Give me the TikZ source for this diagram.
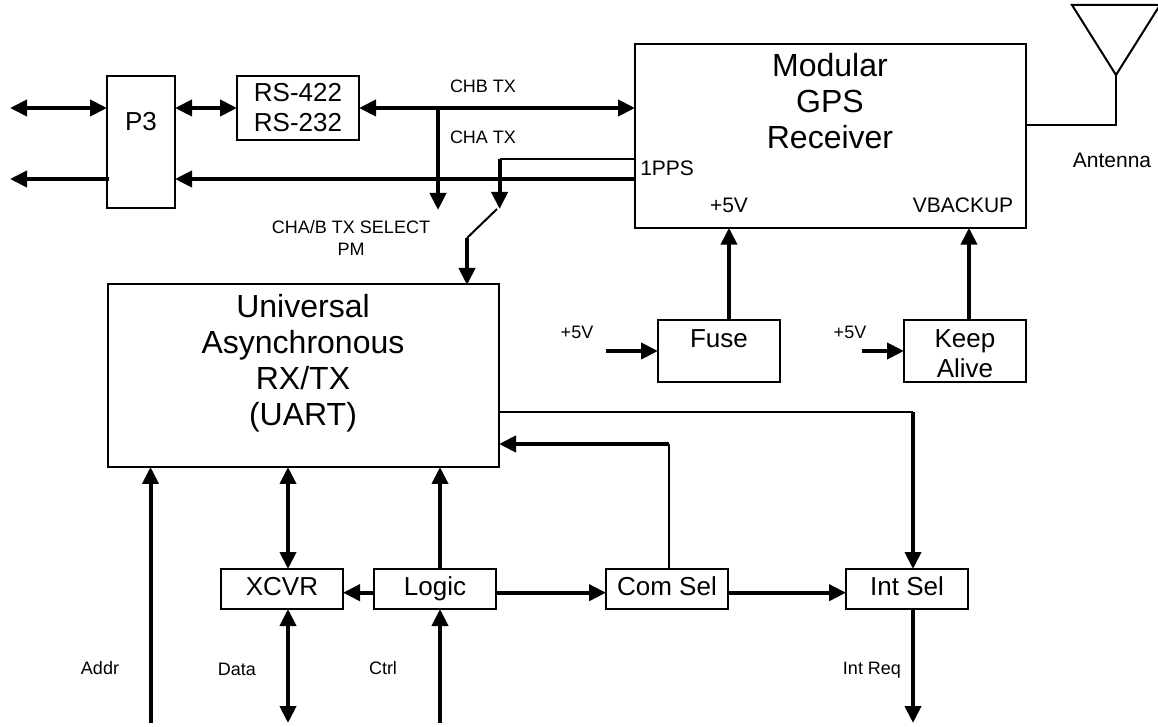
\documentclass[tikz,border=0pt]{standalone}
\usepackage{fontspec}
\setmainfont{Liberation Sans}
\usetikzlibrary{arrows.meta,positioning}
\tikzset{
  bigf/.style={font=\fontsize{24}{27}\selectfont,align=center,inner sep=0pt},
  midf/.style={font=\fontsize{19.5}{22.5}\selectfont,align=center,inner sep=0pt},
  smlf/.style={font=\fontsize{15.75}{18}\selectfont,inner sep=0pt},
  tinyf/.style={font=\fontsize{13.5}{16}\selectfont,align=center,inner sep=0pt},
  box/.style={draw,line width=1.5pt,outer sep=0pt,inner sep=0pt},
  wide/.style={box,midf,minimum width=91.5pt},
  sel/.style={wide,minimum height=30pt,text height=14pt,text depth=5pt},
  wire/.style={line width=1.5pt},
  thk/.style={line width=3pt,-{Triangle[length=12.75pt,width=12pt]}},
  dbl/.style={line width=3pt,{Triangle[length=12.75pt,width=12pt]}-{Triangle[length=12.75pt,width=12pt]}}
}
\begin{document}
\begin{tikzpicture}[x=0.75pt,y=-0.75pt]
  \useasboundingbox (0,0) rectangle (1158,727);
  % top row
  \node[box,minimum width=51pt,minimum height=99pt] (p3) at (141,142) {};
  \node[midf] (p3txt) at (141,122) {P3};
  \node[wide,minimum height=48pt] (rs) at (298,108) {RS-422\\RS-232};
  \node[box,minimum width=293.25pt,minimum height=137.6pt] (gps) at (830.5,136) {};
  \node[bigf] (gpstxt) at (830,101) {Modular\\GPS\\Receiver};
  \node[smlf,anchor=west] (pps) at (640,168) {1PPS};
  \node[smlf] (gps5v) at (729,205) {+5V};
  \node[smlf] (vbak) at (963,205) {VBACKUP};
  \node[box,minimum width=293.25pt,minimum height=137.25pt] (uart) at (303,375.5) {};
  \node[bigf] (uarttxt) at (303,363) {Universal\\Asynchronous\\RX/TX\\(UART)};
  % supplies
  \node[wide,minimum height=46.5pt,text height=40pt] (fuse) at (719,351) {Fuse\\~};
  \node[wide,minimum height=46.5pt,text height=40pt] (keep) at (965,351) {Keep\\Alive};
  \node[tinyf] (fuse5v) at (577,332) {+5V};
  \node[tinyf] (keep5v) at (850,332) {+5V};
  % bottom row
  \foreach \name/\txt/\x in {xcvr/XCVR/282,logic/Logic/435,comsel/Com Sel/667,intsel/Int Sel/907}
    {\node[sel] (\name) at (\x,589) {\txt};}
  % labels
  \node[tinyf] (chb) at (483,86) {CHB TX};
  \node[tinyf] (cha) at (483,137) {CHA TX};
  \node[tinyf] (txsel) at (351,238) {CHA/B TX SELECT\\PM};
  \node[smlf] (ant) at (1112,160) {Antenna};
  \node[tinyf] (addr) at (100,668) {Addr};
  \node[tinyf] (data) at (237,669) {Data};
  \node[tinyf] (ctrl) at (383,668) {Ctrl};
  \node[tinyf] (intreq) at (872,670) {Int Req};
  % free ends
  \coordinate (lefta) at (10,108);
  \coordinate (leftb) at (10,179);
  \coordinate (p3b) at (109,179);
  \coordinate (busr) at (636,179);
  \coordinate (busl) at (175,179);
  \coordinate (chbj) at (438,108);
  \coordinate (chbt) at (438,210);
  \coordinate (chas) at (635,159);
  \coordinate (chac) at (499.6,159);
  \coordinate (chat) at (499.6,209);
  \coordinate (swa) at (497,209);
  \coordinate (swb) at (467,238);
  \coordinate (swt) at (467,285);
  \coordinate (aptop) at (1116,75);
  \coordinate (apl) at (1072,5);
  \coordinate (apr) at (1160,5);
  \coordinate (apc) at (1116,125);
  \coordinate (aps) at (1026,125);
  \coordinate (inf) at (606,351);
  \coordinate (ink) at (862,351);
  \coordinate (addrb) at (150.5,723);
  \coordinate (addrt) at (150.5,467);
  \coordinate (datab) at (288,723);
  \coordinate (datam) at (288,609);
  \coordinate (datat) at (288,467);
  \coordinate (dataz) at (288,569);
  \coordinate (ctrlb) at (440,723);
  \coordinate (ctrlm) at (440,609);
  \coordinate (ctrlu) at (440,569);
  \coordinate (ctrlt) at (440,467);
  \coordinate (comc) at (669,569);
  \coordinate (comk) at (669,444);
  \coordinate (comt) at (499,444);
  \coordinate (ints) at (499,412);
  \coordinate (intc) at (913,412);
  \coordinate (intt) at (913,569);
  \coordinate (intm) at (913,609);
  \coordinate (intb) at (913,723);
  % connectors
  \draw[dbl] (lefta) -- (lefta -| p3.west);
  \draw[dbl] (p3.east |- rs) -- (rs.west);
  \draw[dbl] (rs.east) -- (rs -| gps.west);
  \draw[thk] (chbj) -- (chbt);
  \draw[thk] (p3b) -- (leftb);
  \draw[thk] (busr) -- (busl);
  \draw[wire] (chas) -- (chac);
  \draw[thk] (chac) -- (chat);
  \draw[wire] (swa) -- (swb);
  \draw[thk] (swb) -- (swt);
  \draw[wire] (apl) -- (aptop) -- (apr) -- cycle;
  \draw[wire] (aptop) -- (apc) -- (aps);
  \draw[thk] (fuse.north -| gps5v) -- (gps.south -| gps5v);
  \draw[thk] (keep.north -| 969,0) -- (gps.south -| 969,0);
  \draw[thk] (inf) -- (fuse.west);
  \draw[thk] (ink) -- (keep.west);
  \draw[thk] (addrb) -- (addrt);
  \draw[dbl] (dataz) -- (datat);
  \draw[dbl] (datam) -- (datab);
  \draw[thk] (ctrlu) -- (ctrlt);
  \draw[thk] (ctrlb) -- (ctrlm);
  \draw[thk] (logic.west |- 0,592.7) -- (xcvr.east |- 0,592.7);
  \draw[thk] (logic.east |- 0,592.7) -- (comsel.west |- 0,592.7);
  \draw[thk] (comsel.east |- 0,592.7) -- (intsel.west |- 0,592.7);
  \draw[line width=1pt] (comc) -- (comk);
  \draw[thk] (comk) -- (comt);
  \draw[wire] (ints) -- (intc);
  \draw[thk] (intc) -- (intt);
  \draw[thk] (intm) -- (intb);
\end{tikzpicture}
\end{document}
